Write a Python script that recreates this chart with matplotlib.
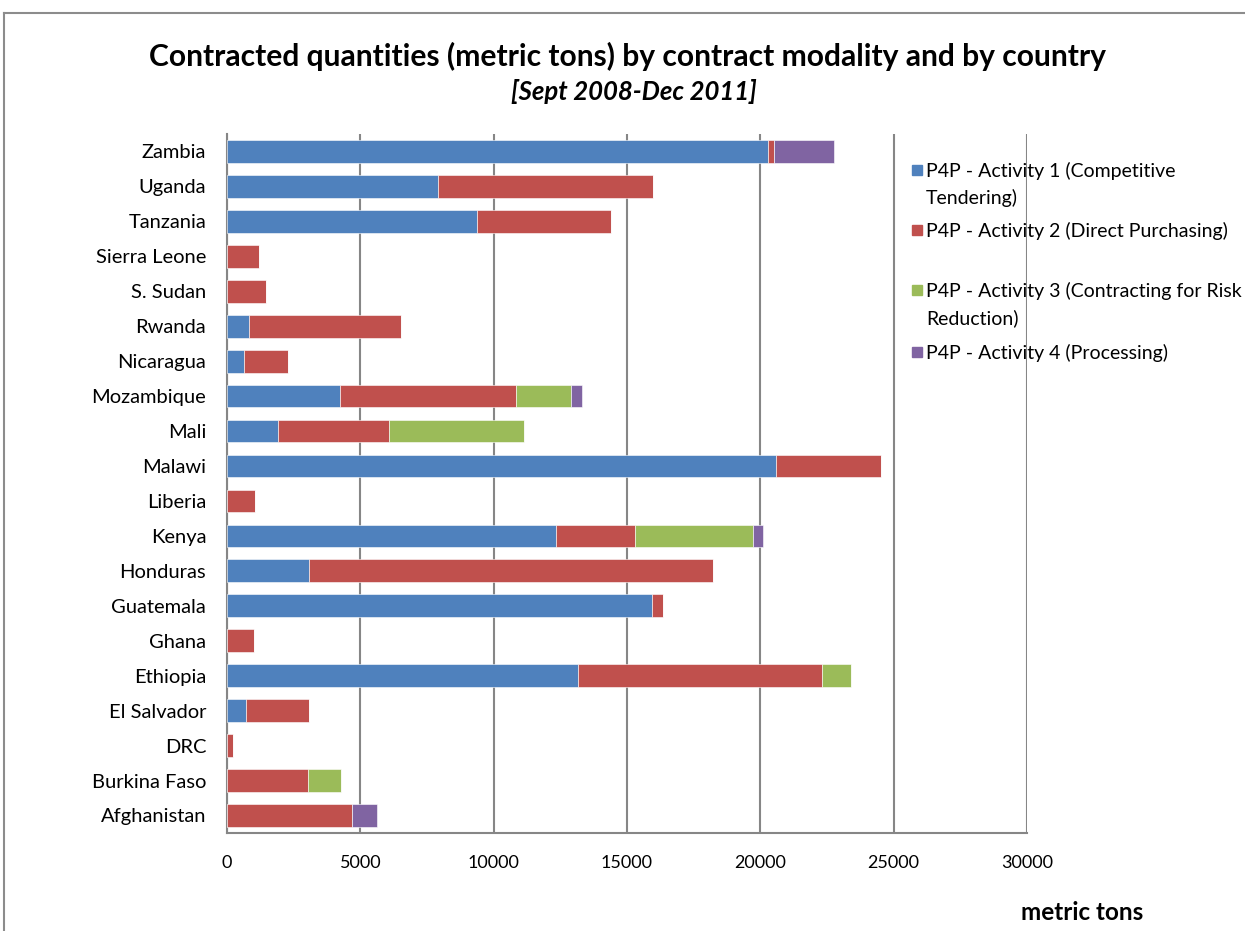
import matplotlib.pyplot as plt
import numpy as np
from matplotlib.patches import Rectangle
from matplotlib.lines import Line2D

plt.rcParams['font.family'] = ['Lato', 'DejaVu Sans']

# countries, bottom to top as drawn
countries = ['Afghanistan', 'Burkina Faso', 'DRC', 'El Salvador', 'Ethiopia', 'Ghana',
             'Guatemala', 'Honduras', 'Kenya', 'Liberia', 'Malawi', 'Mali', 'Mozambique',
             'Nicaragua', 'Rwanda', 'S. Sudan', 'Sierra Leone', 'Tanzania', 'Uganda', 'Zambia']

activity1 = [0, 0, 0, 725, 13160, 0, 15940, 3075, 12325, 0, 20575, 1900, 4250,
             625, 810, 0, 0, 9360, 7900, 20300]
activity2 = [4690, 3050, 210, 2350, 9140, 1025, 410, 15140, 2990, 1040, 3950, 4190, 6575,
             1675, 5710, 1460, 1190, 5030, 8060, 200]
activity3 = [0, 1225, 0, 0, 1110, 0, 0, 0, 4400, 0, 0, 5040, 2090,
             0, 0, 0, 0, 0, 0, 0]
activity4 = [925, 0, 0, 0, 0, 0, 0, 0, 390, 0, 0, 0, 400,
             0, 0, 0, 0, 0, 0, 2250]

series_names = ['P4P - Activity 1 (Competitive\nTendering)',
                'P4P - Activity 2 (Direct Purchasing)',
                'P4P - Activity 3 (Contracting for Risk\nReduction)',
                'P4P - Activity 4 (Processing)']
colors = ['#4F81BD', '#C0504D', '#9BBB59', '#8064A2']

fig = plt.figure(figsize=(12.45, 9.31), dpi=100)
ax = fig.add_axes([0.1823, 0.1053, 0.6426, 0.7508])

y = np.arange(len(countries))
left = np.zeros(len(countries))
for vals, col in zip([activity1, activity2, activity3, activity4], colors):
    vals = np.array(vals, dtype=float)
    ax.barh(y, vals, left=left, height=0.65, color=col, edgecolor='white',
            linewidth=0.4, zorder=3)
    left += vals

ax.set_xlim(0, 30000)
ax.set_ylim(-0.5, len(countries) - 0.5)
ax.set_xticks(np.arange(0, 30001, 5000))
ax.set_yticks(y)
ax.set_yticklabels(countries, fontsize=14.5)
ax.tick_params(axis='x', labelsize=13, length=0, pad=16)
ax.tick_params(axis='y', length=0, pad=15)
ax.xaxis.grid(True, color='#868686', linewidth=1.5, zorder=0)
ax.set_axisbelow(True)
for s in ['top', 'right']:
    ax.spines[s].set_visible(False)
for s in ['left', 'bottom']:
    ax.spines[s].set_color('#868686')
    ax.spines[s].set_linewidth(1.5)

# titles
fig.text(0.504, 0.939, 'Contracted quantities (metric tons) by contract modality and by country',
         ha='center', va='center', fontsize=21.6, fontweight='bold')
fig.text(0.509, 0.902, '[Sept 2008-Dec 2011]', ha='center', va='center',
         fontsize=18.5, fontweight='bold', style='italic')
fig.text(0.869, 0.020, 'metric tons', ha='center', va='center', fontsize=17.5, fontweight='bold')

# legend (Excel-like spacing)
legend_y = [170, 230, 290, 352]
for name, col, ly in zip(series_names, colors, legend_y):
    yf = 1 - ly / 931
    fig.patches.append(Rectangle((912 / 1245, yf - 5 / 931), 10 / 1245, 10 / 931,
                                 transform=fig.transFigure, color=col))
    fig.text(926 / 1245, yf + 8 / 931, name, ha='left', va='top', fontsize=14,
             linespacing=1.6)

# outer chart border
fig.add_artist(Line2D([4 / 1245, 1], [1 - 13 / 931, 1 - 13 / 931], color='#8c8c8c',
                      linewidth=1.5, transform=fig.transFigure))
fig.add_artist(Line2D([4 / 1245, 4 / 1245], [0, 1 - 13 / 931], color='#8c8c8c',
                      linewidth=1.5, transform=fig.transFigure))

fig.savefig('out.png', dpi=100)
